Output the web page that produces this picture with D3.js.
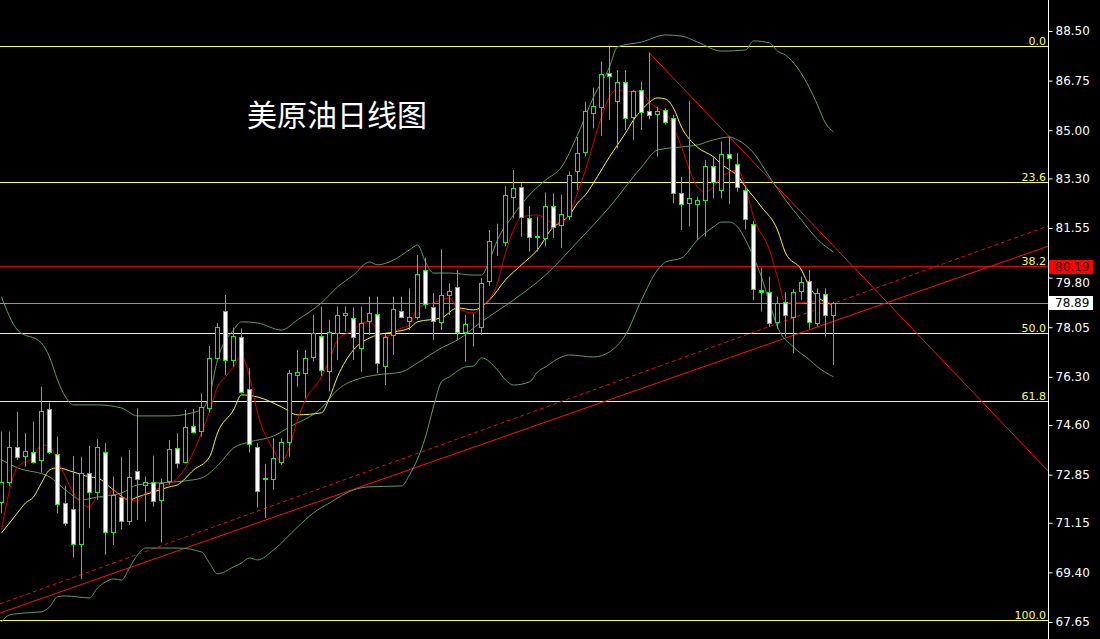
<!DOCTYPE html>
<html><head><meta charset="utf-8">
<script src="https://cdn.jsdelivr.net/npm/d3@7"></script>
<style>html,body{margin:0;padding:0;background:#000;overflow:hidden}</style>
</head><body>
<svg id="c" width="1100" height="639"></svg>
<script>
// ---- Candle data (daily, index 0..104) ----
const openP  = [71.90,72.60,73.84,73.51,73.63,73.37,75.16,73.57,71.84,71.65,70.39,72.92,72.24,73.66,70.84,72.07,71.23,72.96,72.49,72.58,71.95,72.64,73.78,73.30,74.57,74.40,75.21,76.98,78.63,76.90,77.69,75.86,73.84,72.70,72.69,73.31,74.01,76.37,76.42,77.01,77.75,76.52,77.86,78.48,78.39,77.31,78.27,78.51,76.68,77.78,78.61,78.28,78.42,80.07,78.78,78.25,79.19,79.48,77.89,78.08,78.07,79.69,81.05,81.07,82.66,83.00,81.89,81.24,81.20,82.32,81.66,81.96,83.55,84.24,85.62,85.83,87.01,86.04,86.69,85.45,86.42,85.67,85.56,85.71,85.42,82.77,82.42,82.38,82.54,83.72,82.90,84.15,83.80,82.90,81.68,79.36,79.28,78.25,78.95,78.42,79.34,79.69,78.19,79.22,78.48];
const highP  = [74.37,74.37,75.07,74.31,74.72,75.95,75.39,74.19,72.45,73.51,73.48,73.86,74.10,73.96,72.78,73.48,73.72,75.19,72.78,73.52,72.70,74.07,74.31,75.13,75.16,75.72,77.39,78.19,79.19,78.04,78.01,76.62,73.96,73.23,74.13,74.13,76.54,77.25,77.25,78.48,78.78,78.31,78.78,78.78,78.75,78.78,79.13,79.13,77.81,79.13,79.13,79.42,80.60,80.50,79.25,80.80,79.60,80.07,78.48,78.52,79.78,81.48,81.70,83.02,83.60,83.13,82.32,81.95,82.80,82.78,82.72,83.54,84.76,86.00,86.50,87.42,87.94,87.12,87.12,86.42,86.71,87.74,85.83,85.77,85.54,83.36,86.04,82.66,83.95,84.07,84.60,84.77,84.19,83.05,81.80,80.13,79.83,79.13,79.28,79.40,79.83,80.07,79.42,79.42,78.95];
const lowP   = [71.49,72.43,73.37,73.13,73.25,72.92,73.58,71.49,71.04,69.92,69.16,70.96,71.96,70.02,70.37,70.92,71.08,71.25,71.19,71.72,70.45,72.49,73.07,73.27,74.31,74.19,75.04,76.94,76.37,76.66,75.72,73.63,71.69,71.32,72.33,73.19,73.48,75.95,75.54,76.84,76.33,75.78,76.89,77.89,76.89,76.48,77.78,76.43,76.01,77.07,78.36,77.95,78.31,78.70,77.60,77.95,78.48,77.60,76.84,77.37,77.78,79.50,80.57,80.90,81.90,81.24,80.72,80.72,80.90,81.20,80.85,81.83,82.89,84.07,85.07,84.80,85.36,84.36,85.01,84.66,85.01,85.38,84.07,85.20,82.42,81.48,81.60,81.13,81.25,82.60,82.60,82.40,82.83,81.50,79.00,78.60,78.05,78.00,77.72,77.13,79.00,78.00,78.07,77.72,76.72];
const closeP = [72.60,73.84,73.46,73.70,73.31,75.10,73.63,71.82,71.13,70.39,72.92,72.24,73.84,70.82,72.13,71.23,72.76,72.69,72.58,71.91,72.57,73.74,73.27,74.52,74.37,75.23,76.95,78.05,76.90,77.74,75.75,73.93,72.27,72.72,73.43,73.99,76.42,76.48,76.95,77.84,76.54,77.87,78.48,78.56,77.69,78.21,78.54,76.78,77.72,78.68,78.42,78.42,79.93,78.86,78.28,79.19,79.34,77.89,78.16,78.10,79.60,81.09,81.07,82.71,82.95,81.93,81.22,81.26,82.32,81.58,82.03,83.42,84.21,85.68,85.87,86.99,86.93,86.71,85.42,86.38,85.65,85.52,85.68,85.30,82.77,82.38,82.60,82.54,83.72,83.19,84.15,84.01,83.01,81.86,79.40,79.28,78.19,78.90,78.48,79.30,79.66,78.25,79.25,78.48,78.89];

// ---- Indicator lines: [candle index, price] ----
const maFast = [[0,70.90],[2,73.12],[4,73.47],[5,73.90],[6,73.83],[7,73.37],[8,72.77],[9,72.20],[11,71.71],[12,72.06],[13,72.03],[14,72.31],[15,72.06],[17,71.92],[18,72.20],[19,72.27],[20,72.42],[22,72.73],[23,73.09],[24,73.65],[25,74.32],[26,75.06],[27,75.94],[28,76.30],[29,76.65],[30,77.04],[31,76.30],[32,75.03],[34,73.72],[35,73.30],[36,73.83],[37,74.78],[38,75.48],[40,76.30],[41,76.90],[42,77.60],[44,77.95],[45,78.20],[46,78.24],[47,77.95],[48,77.71],[49,77.88],[50,78.02],[51,78.13],[52,78.73],[54,78.91],[56,79.08],[57,78.73],[59,78.55],[60,78.77],[62,79.60],[63,80.67],[64,81.48],[65,81.94],[67,82.01],[69,81.73],[70,81.73],[71,82.08],[72,82.79],[73,83.60],[74,84.55],[75,85.47],[76,86.17],[77,86.45],[78,86.35],[79,86.38],[80,86.35],[81,85.99],[82,85.78],[83,85.64],[84,85.11],[85,84.41],[86,83.60],[87,83.00],[88,82.82],[89,83.00],[90,83.35],[91,83.53],[92,83.60],[93,83.00],[94,81.94],[96,80.78],[97,79.82],[98,78.91],[100,78.91],[101,78.94],[103,78.94],[104,78.84]];
const maSlow = [[0,70.79],[2,71.50],[3,71.85],[4,72.06],[5,72.56],[6,73.01],[7,73.09],[9,72.94],[11,72.77],[12,72.73],[14,72.31],[16,71.96],[17,72.06],[19,72.24],[21,72.42],[22,72.49],[24,73.01],[26,73.47],[27,74.32],[29,75.13],[30,75.66],[32,75.59],[35,75.24],[37,74.96],[40,75.03],[41,75.56],[42,76.30],[44,77.25],[46,77.67],[47,77.78],[49,77.88],[51,78.02],[52,78.24],[55,78.38],[57,78.73],[59,78.66],[61,79.01],[63,79.72],[65,80.25],[67,80.78],[69,81.59],[70,81.76],[71,82.01],[72,82.43],[73,82.72],[74,83.14],[75,83.60],[76,84.06],[77,84.48],[78,84.90],[79,85.36],[80,85.71],[81,85.99],[82,86.14],[83,86.10],[84,85.78],[85,85.11],[87,84.40],[89,84.06],[90,83.80],[91,83.60],[92,83.40],[93,83.00],[94,82.65],[95,82.29],[97,81.48],[98,80.67],[100,80.07],[101,79.47],[102,79.12],[103,78.94],[104,78.84]];
const bbUpper = [[0,79.12],[2,77.95],[5,77.49],[6,77.00],[7,76.19],[8,75.59],[9,75.31],[12,75.31],[15,75.20],[17,74.92],[21,74.92],[25,75.13],[26,75.66],[27,76.90],[29,77.95],[30,78.24],[32,78.20],[35,77.95],[37,78.31],[40,78.91],[42,79.47],[44,79.89],[46,80.35],[47,80.25],[49,80.42],[51,80.78],[52,80.95],[53,80.35],[54,79.96],[56,79.96],[59,79.89],[60,79.89],[61,80.42],[62,81.13],[64,82.01],[66,82.72],[68,83.24],[70,83.70],[72,84.83],[74,86.17],[76,87.23],[77,87.94],[80,88.11],[83,88.36],[85,88.32],[87,88.11],[90,87.79],[93,87.83],[94,88.15],[96,88.08],[97,87.79],[98,87.65],[101,86.49],[102,85.89],[103,85.25],[104,84.94]];
const bbMid = [[0,73.37],[2,73.09],[6,72.77],[8,72.31],[10,71.96],[12,72.06],[15,72.20],[17,72.49],[23,72.63],[25,72.73],[27,73.16],[29,73.79],[31,74.00],[34,74.21],[36,74.53],[40,75.20],[42,75.84],[45,76.26],[47,76.37],[50,76.47],[52,76.79],[55,77.32],[57,77.60],[60,78.24],[64,79.01],[68,79.89],[72,81.06],[76,82.29],[80,83.70],[82,84.30],[85,84.41],[87,84.48],[89,84.66],[91,84.76],[92,84.66],[94,84.20],[96,83.35],[98,82.54],[100,81.83],[102,81.15],[104,80.70]];
const bbLower = [[0,67.65],[1,67.90],[3,67.97],[5,68.01],[6,68.18],[7,68.54],[8,68.57],[11,68.50],[12,68.85],[13,69.06],[14,69.17],[15,69.13],[16,69.56],[17,70.02],[18,70.26],[20,70.26],[22,70.26],[25,70.12],[26,69.73],[27,69.35],[29,69.59],[30,69.73],[31,69.91],[32,69.84],[34,70.19],[37,71.00],[39,71.50],[41,71.85],[44,72.31],[46,72.42],[50,72.45],[51,72.84],[53,74.18],[54,75.24],[55,76.12],[56,76.30],[58,76.65],[59,76.68],[60,76.97],[62,76.54],[63,76.19],[64,76.01],[66,76.12],[67,76.47],[68,76.65],[70,77.00],[71,77.07],[74,77.00],[76,77.18],[78,77.78],[80,79.01],[82,80.07],[83,80.35],[85,80.49],[87,81.13],[89,81.59],[90,81.76],[91,81.76],[92,81.59],[93,81.13],[94,80.53],[95,79.82],[96,78.91],[97,78.06],[99,77.35],[101,76.90],[102,76.65],[104,76.30]];

// ---- Drawn objects ----
const trendSolid  = [[0,67.98],[130,80.82]];
const trendDashed = [[0,68.30],[130,81.53]];
const trendDown   = [[81,87.74],[130,73.24]];
const fibLevels = [0.0, 23.6, 38.2, 50.0, 61.8, 100.0];
const fibHigh = 87.94, fibLow = 67.69;
const lastPrice = 78.89;
const levelPrice = 80.19;
const priceTicks = [88.50,86.75,85.00,83.30,81.55,79.80,78.05,76.30,74.60,72.85,71.15,69.40,67.65];
const titleText = "美原油日线图";

// ---- Layout ----
const W = 1100, H = 639, axisX = 1048;
const svg = d3.select("#c");
svg.append("rect").attr("width", W).attr("height", H).attr("fill", "#000");
const x = d3.scaleLinear().domain([0, 1]).range([1, 9]);
const y = d3.scaleLinear().domain([67.65, 88.50]).range([622, 31]);

svg.append("clipPath").attr("id", "plot").append("rect")
  .attr("x", 0).attr("y", 0).attr("width", axisX).attr("height", H);
const g = svg.append("g").attr("clip-path", "url(#plot)");

// title
svg.append("text").attr("x", 247).attr("y", 126)
  .attr("fill", "#fff").attr("font-family", "'Noto Sans CJK SC', sans-serif")
  .attr("font-size", 30).text(titleText);

// fib levels
const fibColor = "#ffff40";
fibLevels.forEach(l => {
  const p = fibHigh - (fibHigh - fibLow) * l / 100;
  const yy = Math.floor(y(p)) + 0.5;
  g.append("line").attr("x1", 0).attr("x2", axisX).attr("y1", yy).attr("y2", yy)
    .attr("stroke", fibColor).attr("stroke-width", 1);
  svg.append("text").attr("x", axisX - 2).attr("y", yy - 2).attr("text-anchor", "end")
    .attr("fill", fibColor).attr("font-family", "'DejaVu Sans', sans-serif").attr("font-size", 11)
    .text(l.toFixed(1));
});

// horizontal level (red) and last price (grey)
const yLevel = Math.floor(y(levelPrice)) + 0.5;
g.append("line").attr("x1", 0).attr("x2", axisX).attr("y1", yLevel).attr("y2", yLevel)
  .attr("stroke", "#e00000").attr("stroke-width", 1);
const yLast = Math.round(y(lastPrice)) + 0.5;
g.append("line").attr("x1", 0).attr("x2", axisX).attr("y1", yLast).attr("y2", yLast)
  .attr("stroke", "#9090a4").attr("stroke-width", 1);

// trend lines
function extLine(a, b, fromLeft) {
  const x1 = x(a[0]), y1 = y(a[1]), x2 = x(b[0]), y2 = y(b[1]);
  const s = (y2 - y1) / (x2 - x1);
  const xs = fromLeft ? 0 : x1;
  return [[xs, y1 + s * (xs - x1)], [axisX, y1 + s * (axisX - x1)]];
}
const lg = d3.line();
g.append("path").attr("d", lg(extLine(trendSolid[0], trendSolid[1], true)))
  .attr("stroke", "#ff1010").attr("fill", "none").attr("stroke-width", 1);
g.append("path").attr("d", lg(extLine(trendDashed[0], trendDashed[1], true)))
  .attr("stroke", "#e01010").attr("fill", "none").attr("stroke-width", 1).attr("stroke-dasharray", "4,3");
g.append("path").attr("d", lg(extLine(trendDown[0], trendDown[1], false)))
  .attr("stroke", "#ff1010").attr("fill", "none").attr("stroke-width", 1);

// indicator lines
const ind = d3.line().x(d => x(d[0]) + 0.5).y(d => y(d[1])).curve(d3.curveMonotoneX);
const bbColor = "#5a9e68";
[bbUpper, bbMid, bbLower].forEach(s => g.append("path").attr("d", ind(s))
  .attr("fill", "none").attr("stroke", bbColor).attr("stroke-width", 1));
g.append("path").attr("d", ind(maSlow)).attr("fill", "none").attr("stroke", "#ffff00").attr("stroke-width", 1);
g.append("path").attr("d", ind(maFast)).attr("fill", "none").attr("stroke", "#d80000").attr("stroke-width", 1);

// candles
const green = "#00ff00";
const idx = d3.range(openP.length);
const cg = g.append("g");
cg.selectAll("line.w").data(idx).join("line")
  .attr("x1", i => x(i) + 0.5).attr("x2", i => x(i) + 0.5)
  .attr("y1", i => y(highP[i])).attr("y2", i => y(lowP[i]))
  .attr("stroke", green).attr("stroke-width", 1);
cg.selectAll("rect.b").data(idx).join("rect")
  .attr("x", i => x(i) - 1.5).attr("width", 4)
  .attr("y", i => Math.round(y(Math.max(openP[i], closeP[i]))) + 0.5)
  .attr("height", i => Math.max(0, Math.round(y(Math.min(openP[i], closeP[i]))) - Math.round(y(Math.max(openP[i], closeP[i])))))
  .attr("fill", i => closeP[i] < openP[i] ? "#ffffff" : "#000000")
  .attr("stroke", green).attr("stroke-width", 1);

// axis
svg.append("line").attr("x1", axisX + 0.5).attr("x2", axisX + 0.5).attr("y1", 0).attr("y2", H)
  .attr("stroke", "#fff").attr("stroke-width", 1);
const axis = d3.axisRight(y).tickValues(priceTicks).tickFormat(d3.format(".2f")).tickSize(4).tickPadding(3);
const ag = svg.append("g").attr("transform", `translate(${axisX + 0.5},0)`).call(axis);
ag.select(".domain").remove();
ag.selectAll(".tick line").attr("stroke", "#fff");
ag.selectAll(".tick text").attr("fill", "#fff").attr("font-family", "'DejaVu Sans', sans-serif").attr("font-size", 12)
  .attr("dy", d => Math.abs(d - 79.80) < 0.001 ? "0.75em" : "0.32em");

// price boxes
function box(p, bg, fg) {
  const yy = Math.round(y(p));
  svg.append("rect").attr("x", axisX + 1).attr("y", yy - 7).attr("width", 44).attr("height", 14).attr("fill", bg);
  svg.append("text").attr("x", axisX + 7).attr("y", yy + 4).attr("fill", fg)
    .attr("font-family", "'DejaVu Sans', sans-serif").attr("font-size", 12).text(p.toFixed(2));
}
box(levelPrice, "#ff0000", "#300000");
box(lastPrice, "#ffffff", "#000000");
</script>
</body></html>
